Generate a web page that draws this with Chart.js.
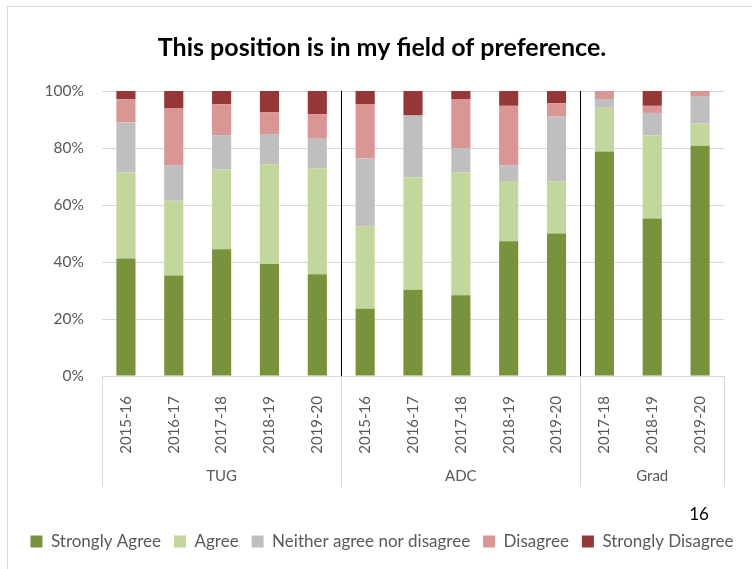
<!DOCTYPE html>
<html>
<head>
<meta charset="utf-8">
<script src="https://cdn.jsdelivr.net/npm/chart.js@4.4.1/dist/chart.umd.min.js"></script>
<style>
  body { margin: 0; background: #fff; }
  #wrap { position: relative; width: 752px; height: 569px; }
</style>
</head>
<body>
<div id="wrap"><canvas id="barchart"></canvas></div>
<script>
// categories and groups
var years = ['2015-16', '2016-17', '2017-18', '2018-19', '2019-20',
             '2015-16', '2016-17', '2017-18', '2018-19', '2019-20',
             '2017-18', '2018-19', '2019-20'];
var groupNames = ['TUG', 'ADC', 'Grad'];
var groupSizes = [5, 5, 3];
var yTicks = [0, 20, 40, 60, 80, 100];

// percentages per response
var stronglyAgree    = [41.2, 35.3, 44.5, 39.3, 35.7, 23.6, 30.3, 28.3, 47.3, 50.0, 78.8, 55.3, 80.8];
var agree            = [30.2, 26.2, 27.9, 35.0, 37.1, 28.9, 39.4, 43.1, 21.1, 18.3, 15.3, 29.1,  7.8];
var neither          = [17.6, 12.4, 12.1, 10.6, 10.7, 23.8, 21.7,  8.6,  5.5, 22.7,  3.1,  7.9,  9.6];
var disagree         = [ 8.1, 20.1, 10.9,  7.7,  8.4, 19.1,  0.0, 17.2, 20.9,  4.7,  2.8,  2.5,  1.8];
var stronglyDisagree = [ 2.9,  6.0,  4.6,  7.4,  8.1,  4.6,  8.6,  2.8,  5.2,  4.3,  0.0,  5.2,  0.0];

var pageNumber = '16';

var FONT = 'Lato';
var GREY_TEXT = '#595959';

// group separators, group labels, frame and page number
var groupPlugin = {
    id: 'groups',
    beforeDraw: function (chart) {
        var c = chart.ctx;
        c.save();
        c.strokeStyle = '#d9d9d9';
        c.lineWidth = 1;
        c.strokeRect(7.5, 6.5, 800, 600);
        c.restore();
    },
    afterDatasetsDraw: function (chart) {
        var c = chart.ctx;
        var x = chart.scales.x;
        var area = chart.chartArea;
        var step = x.getPixelForValue(1) - x.getPixelForValue(0);
        var start = 0;
        var edges = [area.left];
        for (var g = 0; g < groupSizes.length; g++) {
            var end = start + groupSizes[g] - 1;
            var right = x.getPixelForValue(end) + step / 2;
            edges.push(right);
            var center = (x.getPixelForValue(start) + x.getPixelForValue(end)) / 2;
            c.save();
            c.fillStyle = GREY_TEXT;
            c.font = '15px ' + FONT;
            c.textAlign = 'center';
            c.textBaseline = 'middle';
            c.fillText(groupNames[g], center, area.bottom + 100);
            c.restore();
            start = end + 1;
        }
        c.save();
        for (var i = 0; i < edges.length; i++) {
            var ex = Math.round(edges[i]) + 0.5;
            c.strokeStyle = '#d9d9d9';
            c.beginPath();
            c.moveTo(ex, area.bottom);
            c.lineTo(ex, area.bottom + 111);
            c.stroke();
            if (i > 0 && i < edges.length - 1) {
                c.strokeStyle = '#000';
                c.beginPath();
                c.moveTo(ex, area.top);
                c.lineTo(ex, area.bottom);
                c.stroke();
            }
        }
        c.fillStyle = '#000';
        c.font = '17px ' + FONT;
        c.textAlign = 'center';
        c.textBaseline = 'middle';
        c.fillText(pageNumber, 699, 515);
        c.restore();
    }
};

function createBarChart() {
    var ctx = document.getElementById('barchart').getContext('2d');

    function series(label, data, color) {
        return {
            label: label,
            data: data,
            backgroundColor: color,
            borderWidth: 0,
            barPercentage: 0.4,
            categoryPercentage: 1.0
        };
    }

    var chart = new Chart(ctx, {
        type: 'bar',
        data: {
            labels: years,
            datasets: [
                series('Strongly Agree', stronglyAgree, '#77933c'),
                series('Agree', agree, '#c3d69b'),
                series('Neither agree nor disagree', neither, '#bfbfbf'),
                series('Disagree', disagree, '#da9694'),
                series('Strongly Disagree', stronglyDisagree, '#953735')
            ]
        },
        plugins: [groupPlugin],
        options: {
            responsive: true,
            maintainAspectRatio: false,
            animation: false,
            layout: { padding: { left: 12, right: 0, top: 0, bottom: 9 } },
            plugins: {
                title: {
                    display: true,
                    text: 'This position is in my field of preference.',
                    color: '#000',
                    font: { family: FONT, size: 25, weight: 'bold' },
                    padding: { top: 33, bottom: 28 }
                },
                legend: {
                    position: 'bottom',
                    labels: {
                        color: GREY_TEXT,
                        font: { family: FONT, size: 17 },
                        boxWidth: 12,
                        boxHeight: 12,
                        padding: 13
                    }
                },
                tooltip: { enabled: false }
            },
            scales: {
                x: {
                    stacked: true,
                    grid: { display: false },
                    border: { display: true, color: '#d9d9d9' },
                    ticks: {
                        color: GREY_TEXT,
                        font: { family: FONT, size: 15 },
                        minRotation: 90,
                        maxRotation: 90,
                        autoSkip: false,
                        padding: 12
                    },
                    afterFit: function (scale) { scale.height = 144; }
                },
                y: {
                    stacked: true,
                    min: 0,
                    max: 100,
                    afterBuildTicks: function (scale) {
                        scale.ticks = yTicks.map(function (v) { return { value: v }; });
                    },
                    grid: { color: '#d9d9d9', drawTicks: false },
                    border: { display: false },
                    ticks: {
                        color: GREY_TEXT,
                        font: { family: FONT, size: 15.5 },
                        padding: 18,
                        callback: function (v) { return v + '%'; }
                    },
                    afterFit: function (scale) { scale.width = 90; }
                },
                // empty right margin so legend/title can span wider than the plot
                yRight: {
                    position: 'right',
                    display: true,
                    grid: { display: false },
                    border: { display: false },
                    ticks: { display: false },
                    afterFit: function (scale) { scale.width = 28; }
                }
            }
        }
    });
}

document.addEventListener('DOMContentLoaded', function () {
    createBarChart();
});
</script>
</body>
</html>
